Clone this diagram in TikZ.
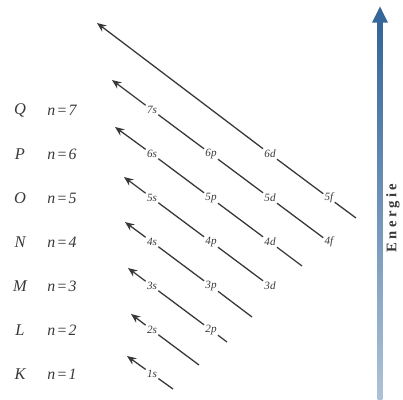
\documentclass[tikz,border=0pt]{standalone}
\usepackage{fontspec}
\setmainfont{Liberation Serif}
\newfontfamily\energyfont[LetterSpace=22]{Liberation Serif}
\newfontfamily\levelfont[LetterSpace=8]{Liberation Serif}
\usetikzlibrary{positioning}
\usetikzlibrary{arrows.meta}

\definecolor{energyBlue}{HTML}{35679B}
\definecolor{orbGrey}{HTML}{383838}

\begin{document}
\begin{tikzpicture}[x=0.03cm, y=-0.03cm,
        orbnode/.style={inner sep=1pt, font=\fontsize{9.5}{10}\selectfont\itshape, text=orbGrey},
        shellnode/.style={font=\fontsize{14}{15}\selectfont\itshape, text=orbGrey},
        levelnode/.style={font=\levelfont\fontsize{13.5}{15}\selectfont\itshape, text=orbGrey},
        orbline/.style={line width=1.1pt, draw=orbGrey, -{Stealth[length=2.8mm, width=2.3mm]}},
        energyarrow/.style={line width=4.5pt, draw=energyBlue, -{Triangle[length=5mm, width=4.4mm]}}, % page is 403 x 399 px
    ]
    \useasboundingbox (0,0) rectangle (403,399);

    % Shells
    \node[shellnode] (shellK) at (20,374) {K};
    \node[shellnode] (shellL) at (20,330) {L};
    \node[shellnode] (shellM) at (20,286) {M};
    \node[shellnode] (shellN) at (20,242) {N};
    \node[shellnode] (shellO) at (20,198) {O};
    \node[shellnode] (shellP) at (20,154) {P};
    \node[shellnode] (shellQ) at (20,110) {Q};
    \node[levelnode] (levelOne) at (62,374) {n=1};
    \node[levelnode] (levelTwo) at (62,330) {n=2};
    \node[levelnode] (levelThree) at (62,286) {n=3};
    \node[levelnode] (levelFour) at (62,242) {n=4};
    \node[levelnode] (levelFive) at (62,198) {n=5};
    \node[levelnode] (levelSix) at (62,154) {n=6};
    \node[levelnode] (levelSeven) at (62,110) {n=7};

    % Orbitals
    \node[orbnode] (orbOneS) at (152,374) {1s};
    \node[orbnode] (orbTwoS) at (152,330) {2s};
    \node[orbnode] (orbTwoP) at (211,330) {2p};
    \node[orbnode] (orbThreeS) at (152,286) {3s};
    \node[orbnode] (orbThreeP) at (211,286) {3p};
    \node[orbnode] (orbThreeD) at (270,286) {3d};
    \node[orbnode] (orbFourS) at (152,242) {4s};
    \node[orbnode] (orbFourP) at (211,242) {4p};
    \node[orbnode] (orbFourD) at (270,242) {4d};
    \node[orbnode] (orbFourF) at (329,242) {4f};
    \node[orbnode] (orbFiveS) at (152,198) {5s};
    \node[orbnode] (orbFiveP) at (211,198) {5p};
    \node[orbnode] (orbFiveD) at (270,198) {5d};
    \node[orbnode] (orbFiveF) at (329,198) {5f};
    \node[orbnode] (orbSixS) at (152,154) {6s};
    \node[orbnode] (orbSixP) at (211,154) {6p};
    \node[orbnode] (orbSixD) at (270,154) {6d};
    \node[orbnode] (orbSevenS) at (152,110) {7s};

    % Ends of the diagonals
    \coordinate (tailOne) at (173,389);
    \coordinate (tailTwo) at (199,365);
    \coordinate (tailThree) at (227,342);
    \coordinate (tailFour) at (252,317);
    \coordinate (tailSix) at (302,266);
    \coordinate (tailEight) at (356,218);
    \coordinate (headOne) at (127,356);
    \coordinate (headTwo) at (131,314);
    \coordinate (headThree) at (128,268);
    \coordinate (headFour) at (125,222);
    \coordinate (headFive) at (124,177);
    \coordinate (headSix) at (115,127);
    \coordinate (headSeven) at (112,80);
    \coordinate (headEight) at (97,23);

    % Lines
    \draw[orbline] (tailOne) -- (orbOneS) -- (headOne);
    \draw[orbline] (tailTwo) -- (orbTwoS) -- (headTwo);
    \draw[orbline] (tailThree) -- (orbTwoP) -- (orbThreeS) -- (headThree);
    \draw[orbline] (tailFour) -- (orbThreeP) -- (orbFourS) -- (headFour);
    \draw[orbline] (orbThreeD) -- (orbFourP) -- (orbFiveS) -- (headFive);
    \draw[orbline] (tailSix) -- (orbFourD) -- (orbFiveP) -- (orbSixS) -- (headSix);
    \draw[orbline] (orbFourF) -- (orbFiveD) -- (orbSixP) -- (orbSevenS) -- (headSeven);
    \draw[orbline] (tailEight) -- (orbFiveF) -- (orbSixD) -- (headEight);

    % Energy axis
    \coordinate (energyBottom) at (380,399);
    \coordinate (energyTop) at (380,6);
    \draw[energyarrow] (energyBottom) -- (energyTop);
    \shade[top color=energyBlue, bottom color=energyBlue!40!white] (377.6,28) rectangle (382.4,399);
    \node[rotate=90, font=\energyfont\fontsize{12.5}{14}\selectfont\bfseries, text=orbGrey] (energyLabel) at (393,218) {Energie};

\end{tikzpicture}
\end{document}
